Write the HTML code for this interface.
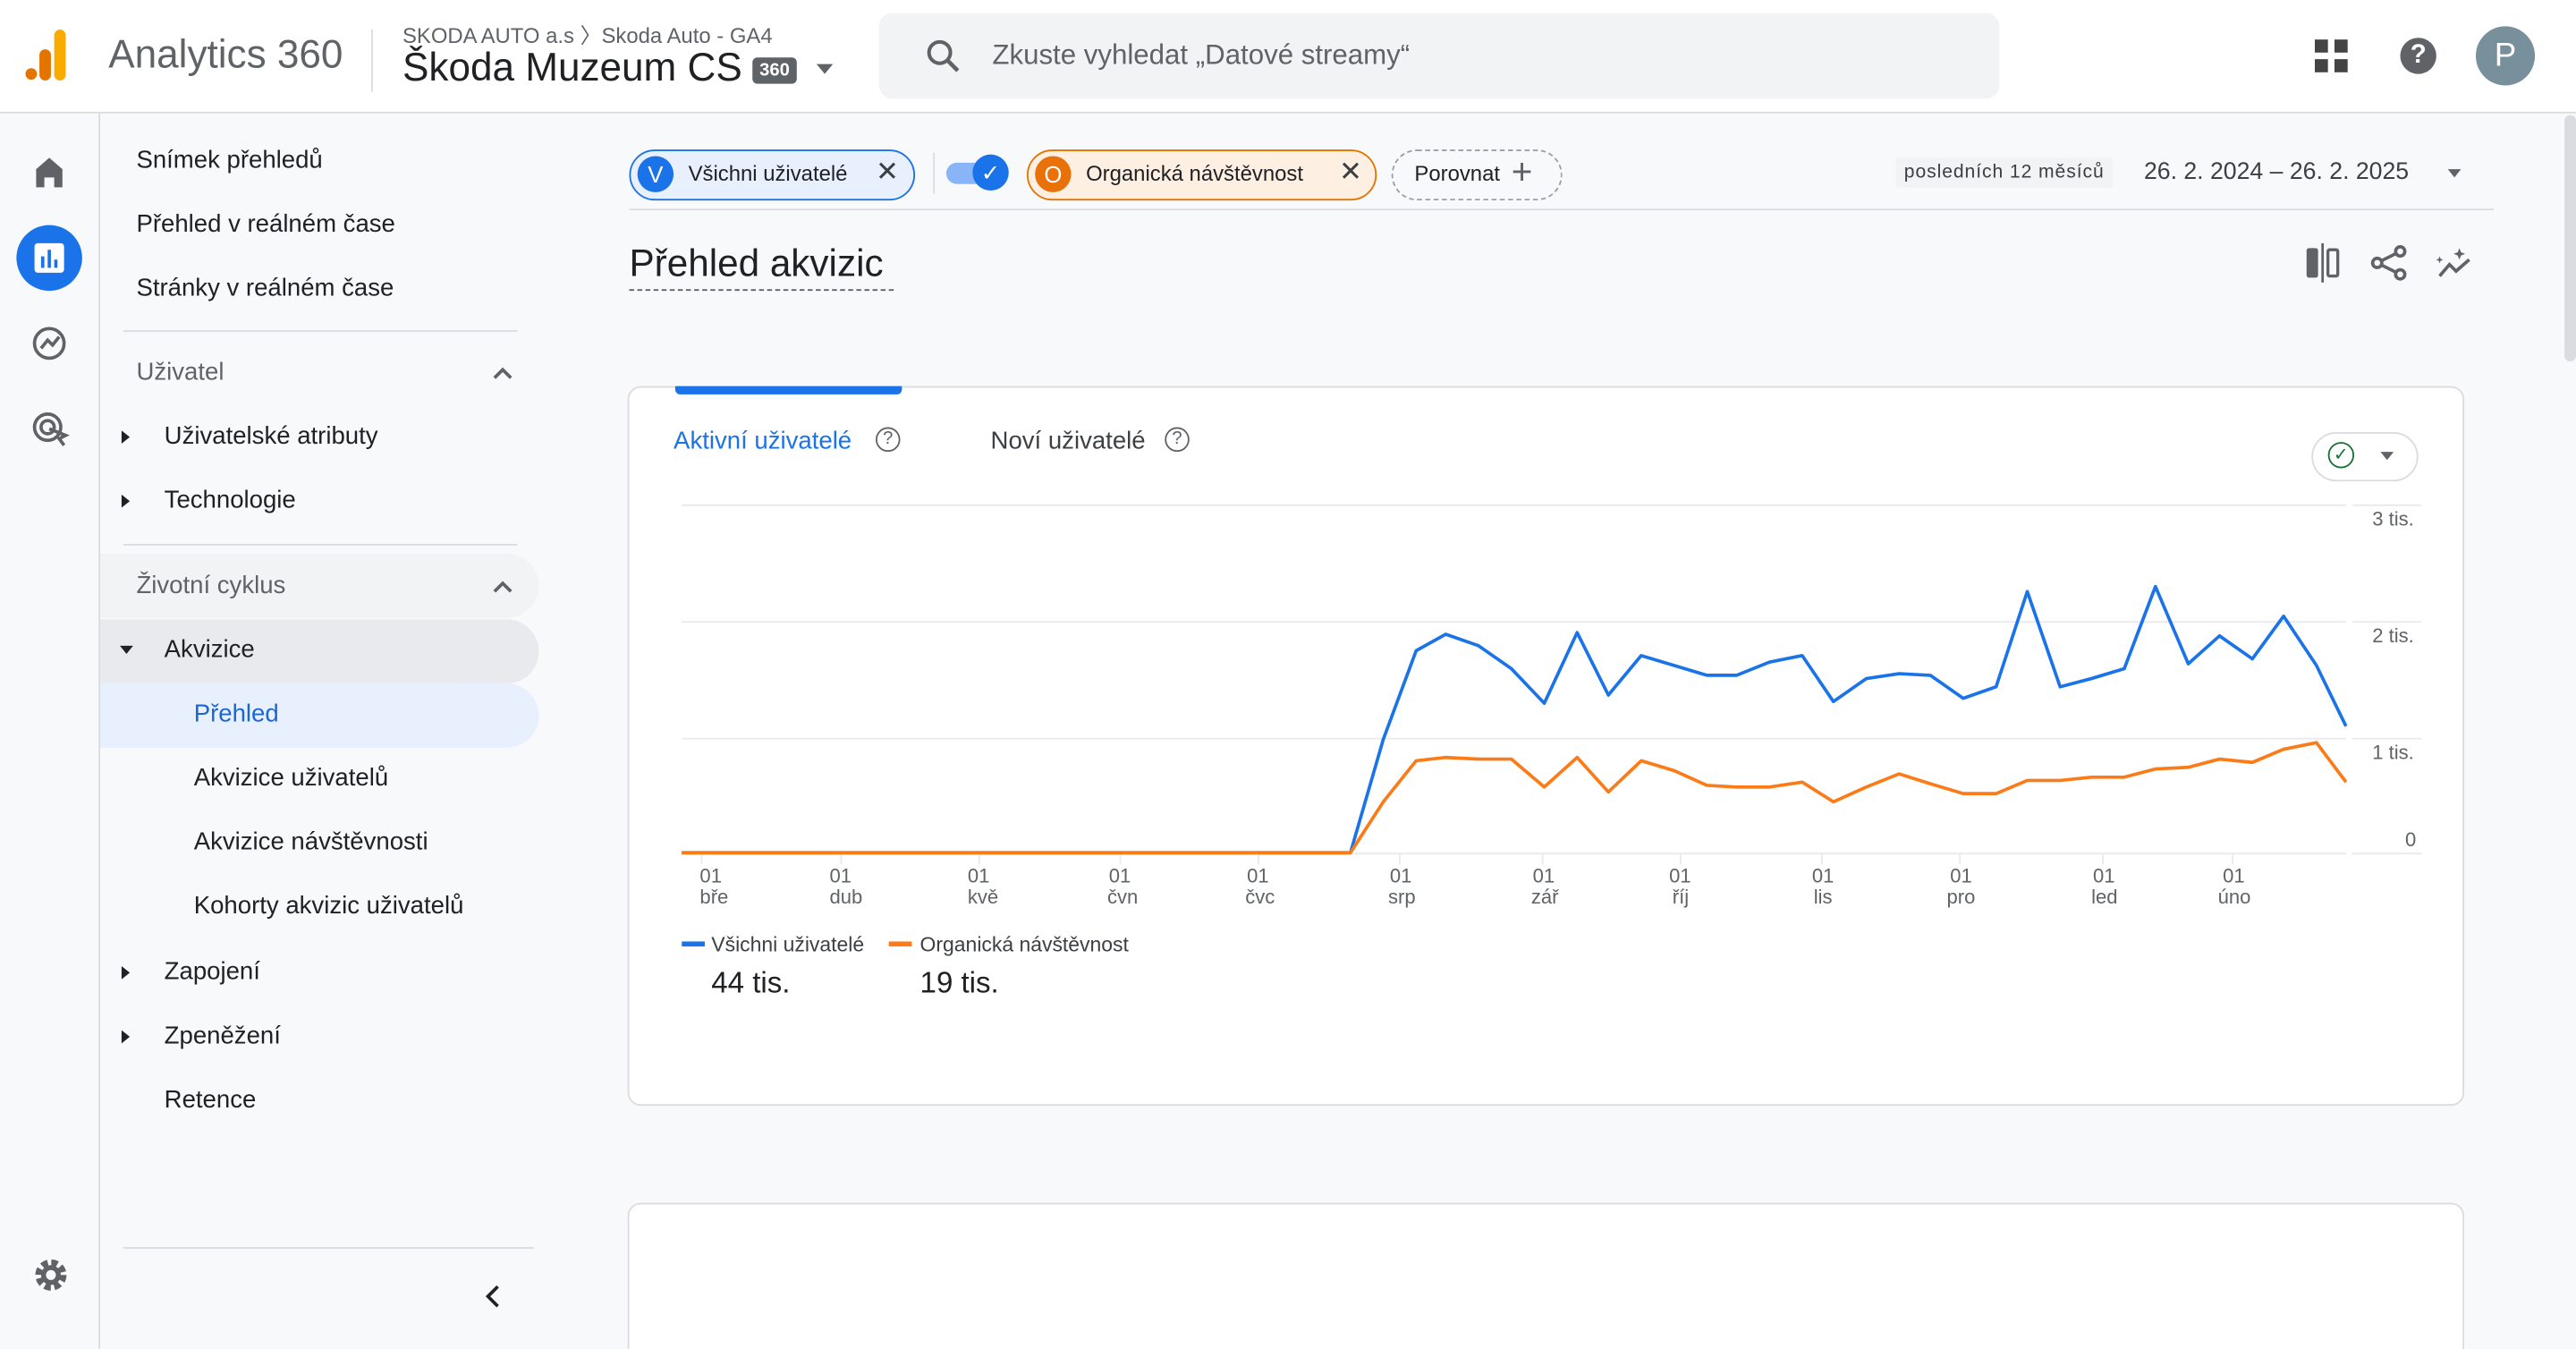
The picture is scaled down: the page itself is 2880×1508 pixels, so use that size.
<!DOCTYPE html>
<html><head><meta charset="utf-8">
<style>
html,body{margin:0;padding:0;width:2880px;height:1508px;overflow:hidden;background:#f8f9fa}
#w{position:absolute;left:0;top:0;width:1568px;height:821px;transform:scale(1.836735);transform-origin:0 0;font-family:"Liberation Sans",sans-serif;color:#202124;background:#f8f9fa;overflow:hidden}
.a{position:absolute;white-space:nowrap}
.nav{font-size:15px;color:#202124}
</style></head><body><div id="w">
<div class="a" style="left:0;top:0;width:1568px;height:68px;background:#fff;border-bottom:1px solid #dadce0"></div>
<svg class="a" style="left:14px;top:16px" width="34" height="34"><rect x="19" y="2" width="7" height="31" rx="3.5" fill="#f9ab00"/><rect x="10" y="14" width="7" height="19" rx="3.5" fill="#e37400"/><circle cx="5" cy="29" r="3.5" fill="#e37400"/></svg>
<div class="a" style="left:66px;top:20px;font-size:24px;color:#5f6368">Analytics 360</div>
<div class="a" style="left:226px;top:18px;width:1px;height:38px;background:#dadce0"></div>
<div class="a" style="left:245px;top:11px;font-size:13px;color:#5f6368">SKODA AUTO a.s 〉Skoda Auto - GA4</div>
<div class="a" style="left:245px;top:28px;font-size:24px;color:#202124">Škoda Muzeum CS</div>
<div class="a" style="left:458px;top:35px;width:27px;height:16px;background:#5f6368;color:#fff;font-size:11px;border-radius:3px;text-align:center;line-height:16px;font-weight:bold">360</div>
<div class="a" style="left:497px;top:39px;border:5px solid transparent;border-top:6px solid #5f6368"></div>
<div class="a" style="left:535px;top:8px;width:682px;height:52px;background:#f1f3f4;border-radius:8px"></div>
<svg class="a" style="left:562px;top:22px" width="24" height="24"><circle cx="10" cy="10" r="6.5" fill="none" stroke="#5f6368" stroke-width="2.2"/><line x1="15" y1="15" x2="21" y2="21" stroke="#5f6368" stroke-width="2.5"/></svg>
<div class="a" style="left:604px;top:24px;font-size:17px;color:#5f6368">Zkuste vyhledat „Datové streamy“</div>
<svg class="a" style="left:1409px;top:24px" width="22" height="22"><rect x="0" y="0" width="8" height="8" fill="#444"/><rect x="12" y="0" width="8" height="8" fill="#444"/><rect x="0" y="12" width="8" height="8" fill="#444"/><rect x="12" y="12" width="8" height="8" fill="#444"/></svg>
<div class="a" style="left:1461px;top:23px;width:22px;height:22px;border-radius:50%;background:#5f6368;color:#fff;font-size:16px;font-weight:bold;text-align:center;line-height:22px">?</div>
<div class="a" style="left:1507px;top:16px;width:36px;height:36px;border-radius:50%;background:#78909c;color:#fff;font-size:20px;text-align:center;line-height:36px">P</div>
<div class="a" style="left:60px;top:69px;width:1px;height:752px;background:#dadce0"></div>
<svg class="a" style="left:20px;top:94px" width="22" height="22"><path d="M2 9 L10 2 L18 9 V20 H13 V14 H7 V20 H2Z" fill="#5f6368"/></svg>
<div class="a" style="left:10px;top:137px;width:40px;height:40px;border-radius:50%;background:#1a73e8"></div>
<svg class="a" style="left:20px;top:147px" width="20" height="20"><rect x="1" y="1" width="18" height="18" rx="2" fill="#fff"/><rect x="5" y="9" width="2" height="7" fill="#1a73e8"/><rect x="9" y="5" width="2" height="11" fill="#1a73e8"/><rect x="13" y="11" width="2" height="5" fill="#1a73e8"/></svg>
<svg class="a" style="left:19px;top:198px" width="24" height="24"><circle cx="11" cy="11" r="9" fill="none" stroke="#5f6368" stroke-width="2"/><path d="M6 14 L10 9 L13 12 L17 7" fill="none" stroke="#5f6368" stroke-width="2"/></svg>
<svg class="a" style="left:19px;top:250px" width="24" height="24"><circle cx="10" cy="10" r="8" fill="none" stroke="#5f6368" stroke-width="2"/><circle cx="10" cy="10" r="4" fill="none" stroke="#5f6368" stroke-width="2"/><path d="M11 11 L21 15 L17 17 L20 21" fill="none" stroke="#5f6368" stroke-width="2"/></svg>
<svg class="a" style="left:19px;top:764px" width="24" height="24"><circle cx="12" cy="12" r="7" fill="none" stroke="#5f6368" stroke-width="5" stroke-dasharray="3.5 2"/><circle cx="12" cy="12" r="6" fill="#5f6368"/><circle cx="12" cy="12" r="3" fill="#f8f9fa"/></svg>
<div class="a nav" style="left:83px;top:89px">Snímek přehledů</div>
<div class="a nav" style="left:83px;top:128px">Přehled v reálném čase</div>
<div class="a nav" style="left:83px;top:167px">Stránky v reálném čase</div>
<div class="a" style="left:75px;top:201px;width:240px;height:1px;background:#dadce0"></div>
<div class="a nav" style="left:83px;top:218px;color:#5f6368">Uživatel</div>
<svg class="a" style="left:299px;top:222px" width="14" height="10"><path d="M2 8 L7 3 L12 8" fill="none" stroke="#5f6368" stroke-width="2"/></svg>
<div class="a" style="left:74px;top:262px;border:4px solid transparent;border-left:5px solid #202124"></div>
<div class="a nav" style="left:100px;top:257px">Uživatelské atributy</div>
<div class="a" style="left:74px;top:301px;border:4px solid transparent;border-left:5px solid #202124"></div>
<div class="a nav" style="left:100px;top:296px">Technologie</div>
<div class="a" style="left:75px;top:331px;width:240px;height:1px;background:#dadce0"></div>
<div class="a" style="left:61px;top:337px;width:267px;height:39px;background:#f1f3f4;border-radius:0 20px 20px 0"></div>
<div class="a nav" style="left:83px;top:348px;color:#5f6368">Životní cyklus</div>
<svg class="a" style="left:299px;top:352px" width="14" height="10"><path d="M2 8 L7 3 L12 8" fill="none" stroke="#5f6368" stroke-width="2"/></svg>
<div class="a" style="left:61px;top:377px;width:267px;height:39px;background:#e8eaed;border-radius:0 20px 20px 0"></div>
<div class="a" style="left:73px;top:393px;border:4px solid transparent;border-top:5px solid #202124"></div>
<div class="a nav" style="left:100px;top:387px">Akvizice</div>
<div class="a" style="left:61px;top:416px;width:267px;height:39px;background:#e8f0fe;border-radius:0 20px 20px 0"></div>
<div class="a nav" style="left:118px;top:426px;color:#1967d2">Přehled</div>
<div class="a nav" style="left:118px;top:465px">Akvizice uživatelů</div>
<div class="a nav" style="left:118px;top:504px">Akvizice návštěvnosti</div>
<div class="a nav" style="left:118px;top:543px">Kohorty akvizic uživatelů</div>
<div class="a" style="left:74px;top:588px;border:4px solid transparent;border-left:5px solid #202124"></div>
<div class="a nav" style="left:100px;top:583px">Zapojení</div>
<div class="a" style="left:74px;top:627px;border:4px solid transparent;border-left:5px solid #202124"></div>
<div class="a nav" style="left:100px;top:622px">Zpeněžení</div>
<div class="a nav" style="left:100px;top:661px">Retence</div>
<div class="a" style="left:75px;top:759px;width:250px;height:1px;background:#dadce0"></div>
<svg class="a" style="left:294px;top:781px" width="12" height="16"><path d="M9 2 L3 8 L9 14" fill="none" stroke="#202124" stroke-width="2"/></svg>
<div class="a" style="left:1561px;top:70px;width:7px;height:150px;background:#dadce0;border-radius:4px"></div>
<div class="a" style="left:383px;top:91px;width:172px;height:29px;border:1.5px solid #1a73e8;background:#e8f0fe;border-radius:16px"></div>
<div class="a" style="left:388px;top:95px;width:22px;height:22px;border-radius:50%;background:#1a73e8;color:#fff;font-size:14px;text-align:center;line-height:22px">V</div>
<div class="a" style="left:419px;top:98px;font-size:13px">Všichni uživatelé</div>
<div class="a" style="left:533px;top:95px;font-size:17px;color:#3c4043">✕</div>
<div class="a" style="left:568px;top:93px;width:1px;height:25px;background:#dadce0"></div>
<div class="a" style="left:576px;top:99px;width:28px;height:13px;border-radius:7px;background:#8ab4f8"></div>
<div class="a" style="left:592px;top:94px;width:22px;height:22px;border-radius:50%;background:#1a73e8;color:#fff;font-size:14px;text-align:center;line-height:22px">✓</div>
<div class="a" style="left:625px;top:91px;width:211px;height:29px;border:1.5px solid #e37400;background:#feefe3;border-radius:16px"></div>
<div class="a" style="left:630px;top:95px;width:22px;height:22px;border-radius:50%;background:#e8710a;color:#fff;font-size:14px;text-align:center;line-height:22px">O</div>
<div class="a" style="left:661px;top:98px;font-size:13px">Organická návštěvnost</div>
<div class="a" style="left:815px;top:95px;font-size:17px;color:#3c4043">✕</div>
<div class="a" style="left:847px;top:91px;width:102px;height:29px;border:1.5px dashed #9aa0a6;border-radius:16px"></div>
<div class="a" style="left:861px;top:98px;font-size:13px">Porovnat</div>
<div class="a" style="left:920px;top:92px;font-size:22px;color:#5f6368;font-weight:300">+</div>
<div class="a" style="left:1154px;top:96px;height:18px;padding:0 5px;background:#f1f3f4;font-size:11.5px;line-height:18px;color:#3c4043;letter-spacing:.5px">posledních 12 měsíců</div>
<div class="a" style="left:1305px;top:97px;font-size:14.5px;color:#3c4043">26. 2. 2024 – 26. 2. 2025</div>
<div class="a" style="left:1490px;top:103px;border:4.5px solid transparent;border-top:5px solid #5f6368"></div>
<div class="a" style="left:383px;top:127px;width:1135px;height:1px;background:#dadce0"></div>
<div class="a" style="left:383px;top:147px;font-size:23px">Přehled akvizic</div>
<div class="a" style="left:383px;top:176px;width:161px;border-top:1.5px dashed #5f6368"></div>
<svg class="a" style="left:1400px;top:148px" width="110" height="24"><rect x="4" y="3" width="7" height="18" rx="1.5" fill="#5f6368"/><rect x="13" y="0" width="1.5" height="24" fill="#5f6368"/><rect x="17" y="4" width="6" height="16" rx="1" fill="none" stroke="#5f6368" stroke-width="1.8"/><g fill="none" stroke="#5f6368" stroke-width="2"><circle cx="61" cy="5" r="2.8"/><circle cx="47" cy="12" r="2.8"/><circle cx="61" cy="19" r="2.8"/><line x1="49" y1="11" x2="59" y2="6"/><line x1="49" y1="13" x2="59" y2="18"/><path d="M85 20 L91 13 L95 17 L103 10"/></g><path d="M97 3 l1 2.5 l2.5 1 l-2.5 1 l-1 2.5 l-1-2.5 l-2.5-1 l2.5-1z M85 8 l.6 1.5 l1.5.6 l-1.5.6 l-.6 1.5 l-.6-1.5 l-1.5-.6 l1.5-.6z" fill="#5f6368"/></svg>
<div class="a" style="left:382px;top:235px;width:1116px;height:436px;background:#fff;border:1px solid #dadce0;border-radius:8px"></div>
<div class="a" style="left:411px;top:235px;width:138px;height:5px;background:#1a73e8;border-radius:0 0 3px 3px"></div>
<div class="a" style="left:410px;top:260px;font-size:15px;color:#1a73e8">Aktivní uživatelé</div>
<div class="a" style="left:533px;top:260px;width:13px;height:13px;border:1.5px solid #5f6368;border-radius:50%;font-size:11px;text-align:center;line-height:13px;color:#5f6368">?</div>
<div class="a" style="left:603px;top:260px;font-size:15px;color:#3c4043">Noví uživatelé</div>
<div class="a" style="left:709px;top:260px;width:13px;height:13px;border:1.5px solid #5f6368;border-radius:50%;font-size:11px;text-align:center;line-height:13px;color:#5f6368">?</div>
<div class="a" style="left:1407px;top:263px;width:63px;height:28px;border:1px solid #dadce0;border-radius:15px"></div>
<div class="a" style="left:1417px;top:269px;width:14px;height:14px;border:1.5px solid #137333;border-radius:50%;font-size:11px;text-align:center;line-height:14px;color:#137333">✓</div>
<div class="a" style="left:1449px;top:275px;border:4px solid transparent;border-top:5px solid #5f6368"></div>
<svg class="a" style="left:0;top:0" width="1568" height="821">
<g stroke="#e8eaed" stroke-width="1"><line x1="415" y1="307.5" x2="1428" y2="307.5"/><line x1="415" y1="378.5" x2="1428" y2="378.5"/><line x1="415" y1="449.5" x2="1428" y2="449.5"/><line x1="415" y1="519.5" x2="1428" y2="519.5"/>
<line x1="1432" y1="307.5" x2="1474" y2="307.5"/><line x1="1432" y1="378.5" x2="1474" y2="378.5"/><line x1="1432" y1="449.5" x2="1474" y2="449.5"/><line x1="1432" y1="519.5" x2="1474" y2="519.5"/></g>
<g stroke="#e8eaed"><line x1="427" y1="520" x2="427" y2="526"/><line x1="512" y1="520" x2="512" y2="526"/><line x1="596" y1="520" x2="596" y2="526"/><line x1="682" y1="520" x2="682" y2="526"/><line x1="766" y1="520" x2="766" y2="526"/><line x1="852" y1="520" x2="852" y2="526"/><line x1="939" y1="520" x2="939" y2="526"/><line x1="1023" y1="520" x2="1023" y2="526"/><line x1="1109" y1="520" x2="1109" y2="526"/><line x1="1193" y1="520" x2="1193" y2="526"/><line x1="1280" y1="520" x2="1280" y2="526"/><line x1="1359" y1="520" x2="1359" y2="526"/></g>
<g font-family="Liberation Sans" font-size="12" fill="#5f6368"><text x="1444" y="320">3 tis.</text><text x="1444" y="391">2 tis.</text><text x="1444" y="462">1 tis.</text><text x="1464" y="515">0</text>
<text x="426" y="537">01</text><text x="426" y="550">bře</text><text x="505" y="537">01</text><text x="505" y="550">dub</text><text x="589" y="537">01</text><text x="589" y="550">kvě</text><text x="675" y="537">01</text><text x="674" y="550">čvn</text><text x="759" y="537">01</text><text x="758" y="550">čvc</text><text x="846" y="537">01</text><text x="845" y="550">srp</text><text x="933" y="537">01</text><text x="932" y="550">zář</text><text x="1016" y="537">01</text><text x="1018" y="550">říj</text><text x="1103" y="537">01</text><text x="1104" y="550">lis</text><text x="1187" y="537">01</text><text x="1185" y="550">pro</text><text x="1274" y="537">01</text><text x="1273" y="550">led</text><text x="1353" y="537">01</text><text x="1350" y="550">úno</text></g>
<polyline fill="none" stroke="#1a73e8" stroke-width="2" stroke-linejoin="round" points="415,519 822,519 842,450 862,396 880,386 900,393 920,407 940,428 960,385 979,423 999,399 1019,405 1039,411 1057,411 1077,403 1097,399 1116,427 1136,413 1156,410 1175,411 1195,425 1215,418 1234,360 1254,418 1273,413 1293,407 1312,357 1332,404 1351,387 1371,401 1390,375 1410,405 1428,442"/>
<polyline fill="none" stroke="#fa7b17" stroke-width="2" stroke-linejoin="round" points="415,519 822,519 842,488 862,463 880,461 900,462 920,462 940,479 960,461 979,482 999,463 1019,469 1039,478 1057,479 1077,479 1097,476 1116,488 1136,479 1156,471 1175,477 1195,483 1215,483 1234,475 1254,475 1273,473 1293,473 1312,468 1332,467 1351,462 1371,464 1390,456 1410,452 1428,476"/>
<rect x="415" y="573" width="14" height="3" fill="#1a73e8"/><rect x="541" y="573" width="14" height="3" fill="#fa7b17"/>
<g font-family="Liberation Sans" font-size="12.5" fill="#3c4043"><text x="433" y="579">Všichni uživatelé</text><text x="560" y="579">Organická návštěvnost</text></g>
<g font-family="Liberation Sans" font-size="18" fill="#202124"><text x="433" y="604">44 tis.</text><text x="560" y="604">19 tis.</text></g>
</svg>
<div class="a" style="left:382px;top:732px;width:1116px;height:89px;background:#fff;border:1px solid #dadce0;border-bottom:none;border-radius:8px 8px 0 0"></div>
</div></body></html>
